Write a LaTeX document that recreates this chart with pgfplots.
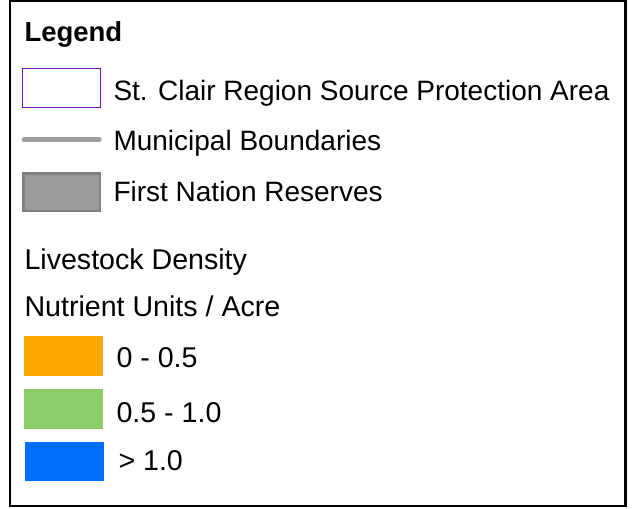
\documentclass[border=0pt]{standalone}
\usepackage{pgfplots}
\pgfplotsset{compat=1.18}
\usepackage{fontspec}
\setmainfont{Liberation Sans}
\definecolor{spaPurple}{RGB}{128,20,170}
\definecolor{muniGray}{RGB}{160,160,160}
\definecolor{fnFill}{RGB}{155,155,155}
\definecolor{fnEdge}{RGB}{128,128,128}
\definecolor{cOrange}{RGB}{255,166,0}
\definecolor{cGreen}{RGB}{139,206,106}
\definecolor{cBlue}{RGB}{0,110,255}
\begin{document}
\begin{tikzpicture}[lbl/.style={font=\fontsize{28bp}{33bp}\selectfont, inner sep=0pt, outer sep=0pt, anchor=base west},
  lbl2/.style={lbl, font=\fontsize{28.6bp}{33bp}\selectfont}]
\begin{axis}[
  width=638bp, height=508bp, scale only axis,
  xmin=0, xmax=638, ymin=0, ymax=508, y dir=reverse,
  hide axis, clip=false,
]
% invisible bounding
\addplot[draw=none, forget plot] coordinates {(0,0) (638,508)};
% frame
\addplot[black, line width=2.5bp] coordinates {(10,1.2) (625.5,1.2) (625.5,506) (10,506) (10,1.2)} -- cycle;
% SPA swatch
\addplot[spaPurple, line width=1.5bp, fill=white] coordinates {(22.5,68.5) (100.5,68.5) (100.5,107.5) (22.5,107.5)} -- cycle;
% Municipal boundary line
\addplot[muniGray, line width=4.5bp, line cap=round] coordinates {(24,139.5) (99.5,139.5)};
% First Nation swatch
\addplot[fnEdge, line width=2.5bp, fill=fnFill] coordinates {(23.5,173.5) (100,173.5) (100,211) (23.5,211)} -- cycle;
% Livestock density classes
\addplot[draw=none, fill=cOrange] coordinates {(24,336) (103,336) (103,375.7) (24,375.7)} -- cycle;
\addplot[draw=none, fill=cGreen] coordinates {(24,389) (103,389) (103,428.7) (24,428.7)} -- cycle;
\addplot[draw=none, fill=cBlue] coordinates {(25,441.7) (104,441.7) (104,480.7) (25,480.7)} -- cycle;
% texts
\node[lbl, font=\fontsize{27.5bp}{33bp}\selectfont\bfseries] at (axis cs:24.5,41) {Legend};
\node[lbl] at (axis cs:113.5,100) {St. Clair Region Source Protection Area};
\node[lbl] at (axis cs:113.5,150.5) {Municipal Boundaries};
\node[lbl] at (axis cs:113.5,201) {First Nation Reserves};
\node[lbl2] at (axis cs:24.5,269.3) {Livestock Density};
\node[lbl2] at (axis cs:24.5,316) {Nutrient Units / Acre};
\node[lbl2] at (axis cs:116.5,367.7) {0 - 0.5};
\node[lbl2] at (axis cs:116.5,422) {0.5 - 1.0};
\node[lbl2] at (axis cs:118.5,470.7) {> 1.0};
\end{axis}
\end{tikzpicture}
\end{document}
